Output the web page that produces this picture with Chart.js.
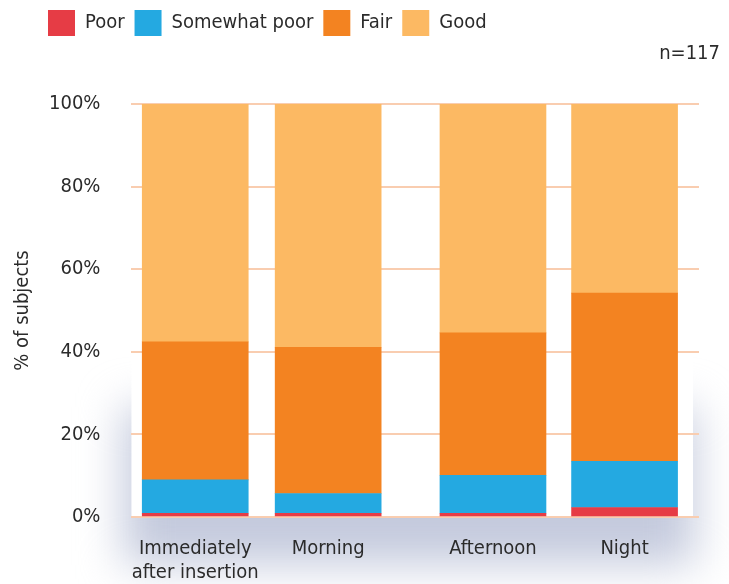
<!DOCTYPE html>
<html>
<head>
<meta charset="utf-8">
<script src="https://cdn.jsdelivr.net/npm/chart.js@4.4.0/dist/chart.umd.min.js"></script>
<style>
  html, body { margin: 0; padding: 0; background: #fff; }
  #wrap { width: 729px; height: 584px; position: relative; }
</style>
</head>
<body>
<div id="wrap"><canvas id="chart"></canvas></div>
<script>
const categories = [['Immediately', 'after insertion'], 'Morning', 'Afternoon', 'Night'];
const poor = [0.9, 0.9, 0.9, 2.3];
const somewhatPoor = [8.1, 4.8, 9.2, 11.2];
const fair = [33.4, 35.4, 34.5, 40.7];
const good = [57.6, 58.9, 55.4, 45.8];
const yTicks = [0, 20, 40, 60, 80, 100];

// where each bar sits along the x axis (layout only)
const slotX = [0, 1, 2.24, 3.23];

const FONT = "'DejaVu Sans Condensed', 'DejaVu Sans', sans-serif";
const textColor = '#2b2b2b';

function series(vals) {
    return vals.map((v, i) => ({ x: slotX[i], y: v }));
}

// soft bluish shadow under the plot, white card over it
const glow = {
    id: 'glow',
    beforeDraw(chart) {
        const { ctx, chartArea: a } = chart;
        ctx.save();
        ctx.filter = 'blur(22px)';
        ctx.fillStyle = '#c4cadd';
        ctx.fillRect(a.left - 8, a.bottom - 110, a.right - a.left + 4, 158);
        ctx.restore();
        ctx.save();
        ctx.fillStyle = '#fff';
        ctx.fillRect(a.left, 0, a.right - a.left - 6, a.bottom);
        ctx.restore();
    }
};

new Chart(document.getElementById('chart'), {
    type: 'bar',
    data: {
        datasets: [
            { label: 'Poor', data: series(poor), backgroundColor: '#e63c45' },
            { label: 'Somewhat poor', data: series(somewhatPoor), backgroundColor: '#24a9e1' },
            { label: 'Fair', data: series(fair), backgroundColor: '#f38321' },
            { label: 'Good', data: series(good), backgroundColor: '#fcb963' }
        ]
    },
    options: {
        responsive: true,
        maintainAspectRatio: false,
        animation: false,
        barThickness: 106,
        layout: { padding: { left: 38, right: 9, top: 0, bottom: -21 } },
        plugins: {
            legend: {
                position: 'top',
                align: 'start',
                weight: 3000,
                labels: {
                    boxWidth: 27,
                    boxHeight: 26,
                    padding: 10,
                    color: textColor,
                    font: { family: FONT, size: 20 }
                }
            },
            subtitle: {
                display: true,
                text: 'n=117',
                align: 'end',
                position: 'top',
                color: textColor,
                font: { family: FONT, size: 20, weight: 'normal' },
                padding: { top: -4, bottom: 38 }
            },
            tooltip: { enabled: false }
        },
        scales: {
            x: {
                type: 'linear',
                offset: false,
                min: -0.48,
                max: 3.79,
                stacked: true,
                grid: { display: false, drawTicks: false },
                border: { display: false },
                afterBuildTicks(scale) {
                    scale.ticks = slotX.map(v => ({ value: v }));
                },
                ticks: {
                    autoSkip: false,
                    maxRotation: 0,
                    padding: 20,
                    color: textColor,
                    font: { family: FONT, size: 20 },
                    callback: (value, index) => categories[index]
                }
            },
            y: {
                stacked: true,
                min: 0,
                max: 100,
                grid: { color: '#f9cdb0', lineWidth: 2, drawTicks: false },
                border: { display: false },
                afterBuildTicks(scale) {
                    scale.ticks = yTicks.map(v => ({ value: v }));
                },
                ticks: {
                    padding: 31,
                    color: textColor,
                    font: { family: FONT, size: 20 },
                    callback: v => v + '%'
                },
                title: {
                    display: true,
                    text: '% of subjects',
                    color: textColor,
                    font: { family: FONT, size: 20 },
                    padding: { top: -27, bottom: -17 }
                }
            },
            yRight: {
                position: 'right',
                display: true,
                grid: { display: false, drawTicks: false },
                border: { display: false },
                ticks: { display: false },
                afterFit(scale) { scale.width = 21; }
            }
        }
    },
    plugins: [glow]
});
</script>
</body>
</html>
